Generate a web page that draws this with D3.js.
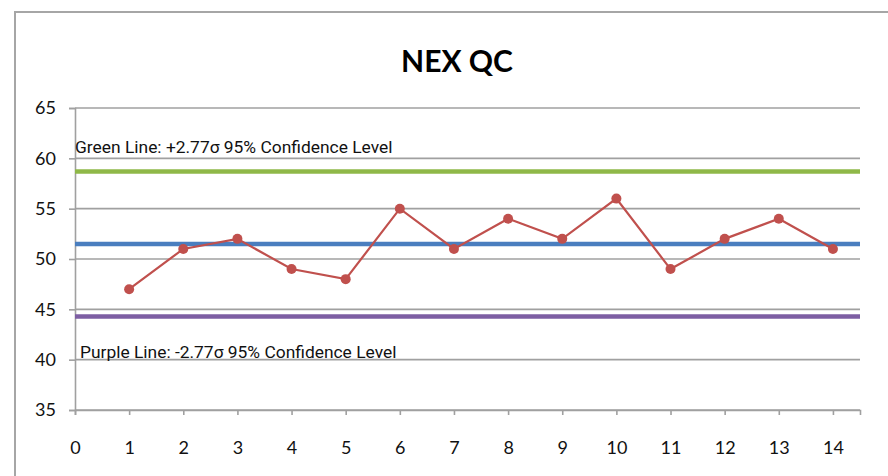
<!DOCTYPE html>
<html>
<head>
<meta charset="utf-8">
<script src="https://cdn.jsdelivr.net/npm/d3@7"></script>
<style>
  body { margin: 0; background: #fff; }
  .tick text { font-family: Lato, "Open Sans", sans-serif; font-size: 18px; fill: #111; }
</style>
</head>
<body>
<div id="chart"></div>
<script>
// data
var samples = [1, 2, 3, 4, 5, 6, 7, 8, 9, 10, 11, 12, 13, 14]
var values = [47, 51, 52, 49, 48, 55, 51, 54, 52, 56, 49, 52, 54, 51]
var meanLine = 51.5
var upperLine = 58.7
var lowerLine = 44.3
var xTicks = [0, 1, 2, 3, 4, 5, 6, 7, 8, 9, 10, 11, 12, 13, 14]
var yTicks = [35, 40, 45, 50, 55, 60, 65]

var W = 888, H = 476
var margin = { top: 108, right: 28, bottom: 66, left: 75 }
var w = W - margin.left - margin.right
var h = H - margin.top - margin.bottom

var svg = d3.select('#chart').append('svg')
    .attr('width', W)
    .attr('height', H)

// outer chart border (only top + left visible)
svg.append('path')
    .attr('d', 'M15,' + (H + 5) + 'V12H' + (W + 5))
    .attr('fill', 'none')
    .attr('stroke', '#a6a6a6')
    .attr('stroke-width', 2)

svg.append('text')
    .attr('x', 457)
    .attr('y', 72)
    .attr('text-anchor', 'middle')
    .style('font-family', 'Lato, "Open Sans", sans-serif')
    .style('font-weight', 'bold')
    .style('font-size', '30px')
    .text('NEX QC')

var g = svg.append('g')
    .attr('transform', 'translate(' + margin.left + ',' + margin.top + ')')

var x = d3.scaleLinear().domain([0, 14.5]).range([0, w])
var y = d3.scaleLinear().domain([35, 65]).range([h, 0])

// gridlines
g.selectAll('.grid')
    .data(yTicks)
    .enter()
  .append('line')
    .attr('class', 'grid')
    .attr('x1', 0)
    .attr('x2', w)
    .attr('y1', function (d) { return y(d) })
    .attr('y2', function (d) { return y(d) })
    .attr('stroke', '#a0a0a0')
    .attr('stroke-width', 1.6)

// y-axis
var yAxis = d3.axisLeft(y).tickValues(yTicks).tickSize(6).tickPadding(13)
g.append('g').call(yAxis)
  .call(function (a) {
    a.select('.domain').attr('stroke', '#a0a0a0').attr('stroke-width', 1.6)
    a.selectAll('.tick line').attr('stroke', '#a0a0a0').attr('stroke-width', 1.6)
  })

// x-axis
var xAxis = d3.axisBottom(x).tickValues(xTicks).tickSize(5).tickPadding(26)
g.append('g')
    .attr('transform', 'translate(0,' + h + ')')
    .call(xAxis)
  .call(function (a) {
    a.select('.domain').attr('stroke', '#a0a0a0').attr('stroke-width', 1.6)
    a.selectAll('.tick line').attr('stroke', '#a0a0a0').attr('stroke-width', 1.6)
  })

// control lines
var ctl = [
  { v: upperLine, c: '#8fb848' },
  { v: meanLine, c: '#4a7ebf' },
  { v: lowerLine, c: '#7d5ea3' }
]
g.selectAll('.ctl')
    .data(ctl)
    .enter()
  .append('line')
    .attr('x1', 0)
    .attr('x2', w)
    .attr('y1', function (d) { return y(d.v) })
    .attr('y2', function (d) { return y(d.v) })
    .attr('stroke', function (d) { return d.c })
    .attr('stroke-width', 4.5)

// series
var line = d3.line()
    .x(function (d, i) { return x(samples[i]) })
    .y(function (d) { return y(d) })
g.append('path')
    .datum(values)
    .attr('d', line)
    .attr('fill', 'none')
    .attr('stroke', '#c0504d')
    .attr('stroke-width', 2.2)

g.selectAll('.pt')
    .data(values)
    .enter()
  .append('circle')
    .attr('cx', function (d, i) { return x(samples[i]) })
    .attr('cy', function (d) { return y(d) })
    .attr('r', 5)
    .attr('fill', '#c0504d')

// annotations
g.append('text')
    .attr('x', 0)
    .attr('y', y(60) - 5)
    .style('font-family', 'Roboto, sans-serif')
    .style('font-size', '17.4px')
    .style('fill', '#111')
    .text('Green Line: +2.77\u03c3 95% Confidence Level')

g.append('text')
    .attr('x', 5)
    .attr('y', y(40) - 2)
    .style('font-family', 'Roboto, sans-serif')
    .style('font-size', '17.4px')
    .style('fill', '#111')
    .text('Purple Line: -2.77\u03c3 95% Confidence Level')
</script>
</body>
</html>
